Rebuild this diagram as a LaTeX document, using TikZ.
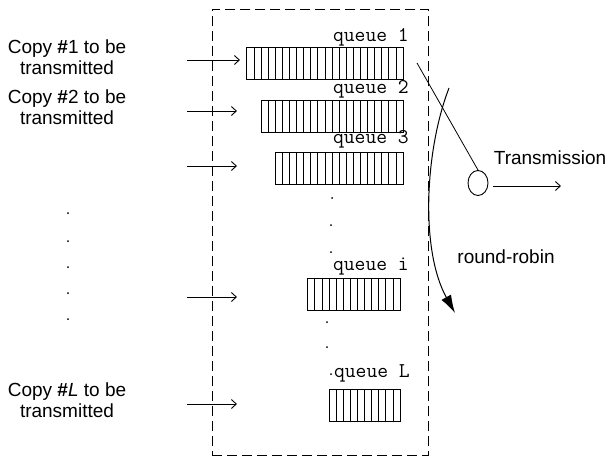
\documentclass[tikz,border=0pt]{standalone}
\usepackage{fontspec}
\setmainfont{Liberation Sans}
\usetikzlibrary{arrows.meta,shapes.geometric}
\begin{document}
\begin{tikzpicture}[x=1pt,y=-1pt,
  copytext/.style={font=\fontsize{19}{21}\selectfont, align=center, inner sep=0pt},
  qlabel/.style={font=\fontsize{21}{21}\ttfamily\selectfont, anchor=east, inner sep=0pt},
  qrect/.style={draw, line width=0.9pt, minimum height=32pt, inner sep=0pt, outer sep=0pt, anchor=east},
  cell/.style={line width=0.8pt},
  inarrow/.style={-{Straight Barb[length=5pt,width=9pt]}, line width=0.9pt},
  dotmark/.style={fill=black, circle, inner sep=0pt, minimum size=2pt},
  frame/.style={dashed, dash pattern=on 10pt off 5pt, line width=0.9pt},
  rr/.style={line width=1pt, -{Latex[length=18pt,width=11pt]}}
]
\useasboundingbox (0,0) rectangle (612,461);
\fill[white] (0,0) rectangle (612,461);

% dashed frame
\node[frame, draw, minimum width=216pt, minimum height=446pt, inner sep=0pt, anchor=north west] (box) at (212,9) {};

% left texts
\node[copytext] (c1) at (67,57) {Copy \textbf{\#}1 to be\\transmitted};
\node[copytext] (c2) at (67,107) {Copy \textbf{\#}2 to be\\transmitted};
\node[copytext] (cL) at (67,400) {Copy \textbf{\#}\textit{L} to be\\transmitted};

% left dots
\foreach \yy [count=\n] in {213,241,267,293,319}
  \node[dotmark] (ld\n) at (68,\yy) {};

% queues
\newcommand\qbox[4]{%
  \node[qrect, minimum width=#4*7.1pt] (#1) at (#2,#3) {};
  \pgfmathtruncatemacro\qlast{#4-1}
  \foreach \k in {1,...,\qlast}
    \draw[cell] ([xshift=\k*7.1pt]#1.north west) -- ([xshift=\k*7.1pt]#1.south west);
}
\qbox{q1}{403}{63}{22}
\qbox{q2}{403}{116}{20}
\qbox{q3}{403}{168}{18}
\qbox{qi}{400}{294}{13}
\qbox{qL}{400}{405}{10}

% queue labels
\node[qlabel] (l1) at (409,37) {queue 1};
\node[qlabel] (l2) at (409,89) {queue 2};
\node[qlabel] (l3) at (409,139) {queue 3};
\node[qlabel] (li) at (409,267) {queue i};
\node[qlabel] (lL) at (410,373) {queue L};

% middle dots
\node[dotmark] (m1) at (332,198) {};
\node[dotmark] (m2) at (331,225) {};
\node[dotmark] (m3) at (331,252) {};
\node[dotmark] (m4) at (327,322) {};
\node[dotmark] (m5) at (327,347) {};
\node[dotmark] (m6) at (331,374) {};

% input arrows
\coordinate (a1s) at (187,60);  \coordinate (a1e) at (240,60);
\coordinate (a2s) at (187,111); \coordinate (a2e) at (237,111);
\coordinate (a3s) at (187,166); \coordinate (a3e) at (237,166);
\coordinate (ais) at (187,297); \coordinate (aie) at (237,297);
\coordinate (aLs) at (187,404); \coordinate (aLe) at (237,404);
\foreach \a in {1,2,3,i,L}
  \draw[inarrow] (a\a s) -- (a\a e);

% server
\node[ellipse, draw, line width=0.9pt, minimum width=20pt, minimum height=25pt, inner sep=0pt] (srv) at (478,183) {};
\coordinate (ptr) at (417,63);
\draw[line width=0.8pt] (ptr) -- (srv.north);
\coordinate (txe) at (561,186);
\draw[inarrow] ([xshift=5pt]srv.east |- txe) -- (txe);
\node[font=\fontsize{19}{19}\selectfont, inner sep=0pt] (tx) at (550,158) {Transmission};

% round robin
\coordinate (rrs) at (449,88);
\coordinate (rre) at (455,313);
\draw[rr] (rrs) .. controls (425,150) and (420,250) .. (rre);
\node[font=\fontsize{19}{19}\selectfont, inner sep=0pt] (rrl) at (506,257) {round-robin};
\end{tikzpicture}
\end{document}
